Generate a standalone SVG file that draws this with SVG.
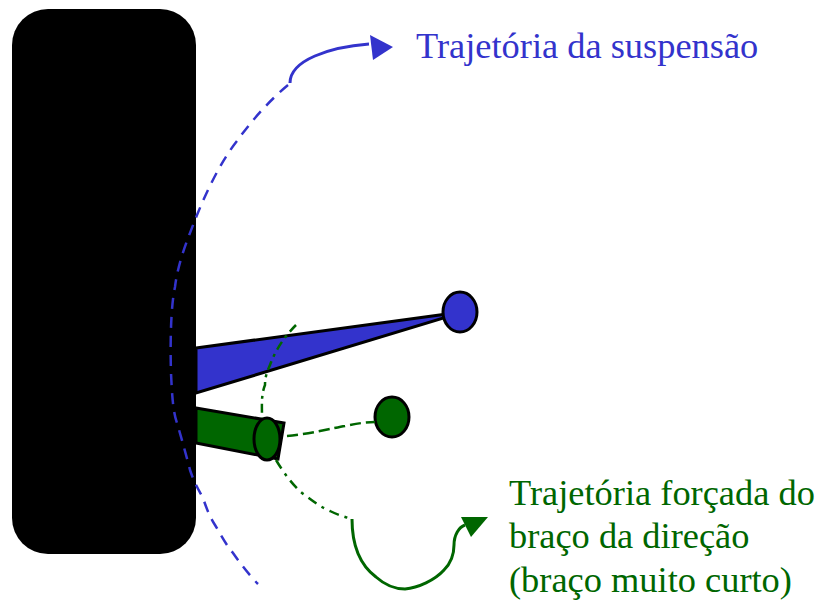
<svg xmlns="http://www.w3.org/2000/svg" width="822" height="603" viewBox="0 0 822 603">
<style>
.lbl{font-family:"Liberation Serif","Times New Roman",serif;font-size:36.4px}
.bt{fill:#3333cc}.gt{fill:#006600}
.ln{fill:none;stroke-width:2.5;stroke-linecap:butt}
.sol{stroke-width:3}
.b{stroke:#3333cc}.g{stroke:#006600}
.o{stroke:#000;stroke-width:3}
</style>
<rect width="822" height="603" fill="#fff"/>
<g id="wheel"><rect x="12" y="9" width="184" height="545" rx="36" ry="36" fill="#000"/></g>
<g id="blue-arm"><path class="o" d="M196 348L447 314L447 317L196 393Z" fill="#3333cc"/></g>
<g id="blue-joint"><ellipse class="o" cx="460" cy="312" rx="17" ry="20" fill="#3333cc"/></g>
<g id="green-arm"><path class="o" d="M196 408L284 423L278 459L196 443Z" fill="#006600"/><ellipse class="o" cx="267" cy="439" rx="13" ry="21" fill="#006600"/></g>
<g id="green-joint"><ellipse class="o" cx="392" cy="417" rx="17" ry="20" fill="#006600"/></g>
<g id="connectors">
<path class="ln b" stroke-dasharray="11 8" d="M288 85C270 100 252 120 237 141C222 160 208 188 197 215C188 238 178 262 175 287C171 305 170 340 171 373C172 395 173 412 177 423C182 440 187 458 190 470C195 485 200 492 203 498C207 510 210 517 215 525C222 537 227 546 233 553C240 563 250 576 258 584"/>
<path class="ln b sol" d="M290 83C290 60 330 47 369 44"/>
<polygon class="bt" points="370,35 393,47 373,60"/>
<path class="ln g" stroke-dasharray="9 5 3 5" d="M296 325C285 336 277 348 272 360C268 370 265 375 265 385C261 395 262 405 262 418"/>
<path class="ln g" stroke-dasharray="11 5" d="M287 436C310 434 333 428 345 426C355 424 365 422 375 422"/>
<path class="ln g" stroke-dasharray="10 6 3 6" d="M276 460C285 475 293 485 302 493C312 500 320 507 330 511C338 515 345 517 352 519"/>
<path class="ln g sol" d="M352 519C352 545 360 565 376 577C386 586 396 589 405 589C418 588 435 580 444 570C452 562 454 553 454 545C454 535 459 527 465 525"/>
<polygon class="gt" points="461,517 488,517 471,537"/>
</g>
<g id="label-suspensao"><text class="lbl bt" x="416" y="58">Trajetória da suspensão</text></g>
<g id="label-direcao">
<text class="lbl gt" x="509" y="505">Trajetória forçada do</text>
<text class="lbl gt" x="509" y="548">braço da direção</text>
<text class="lbl gt" x="509" y="592">(braço muito curto)</text>
</g>
</svg>
